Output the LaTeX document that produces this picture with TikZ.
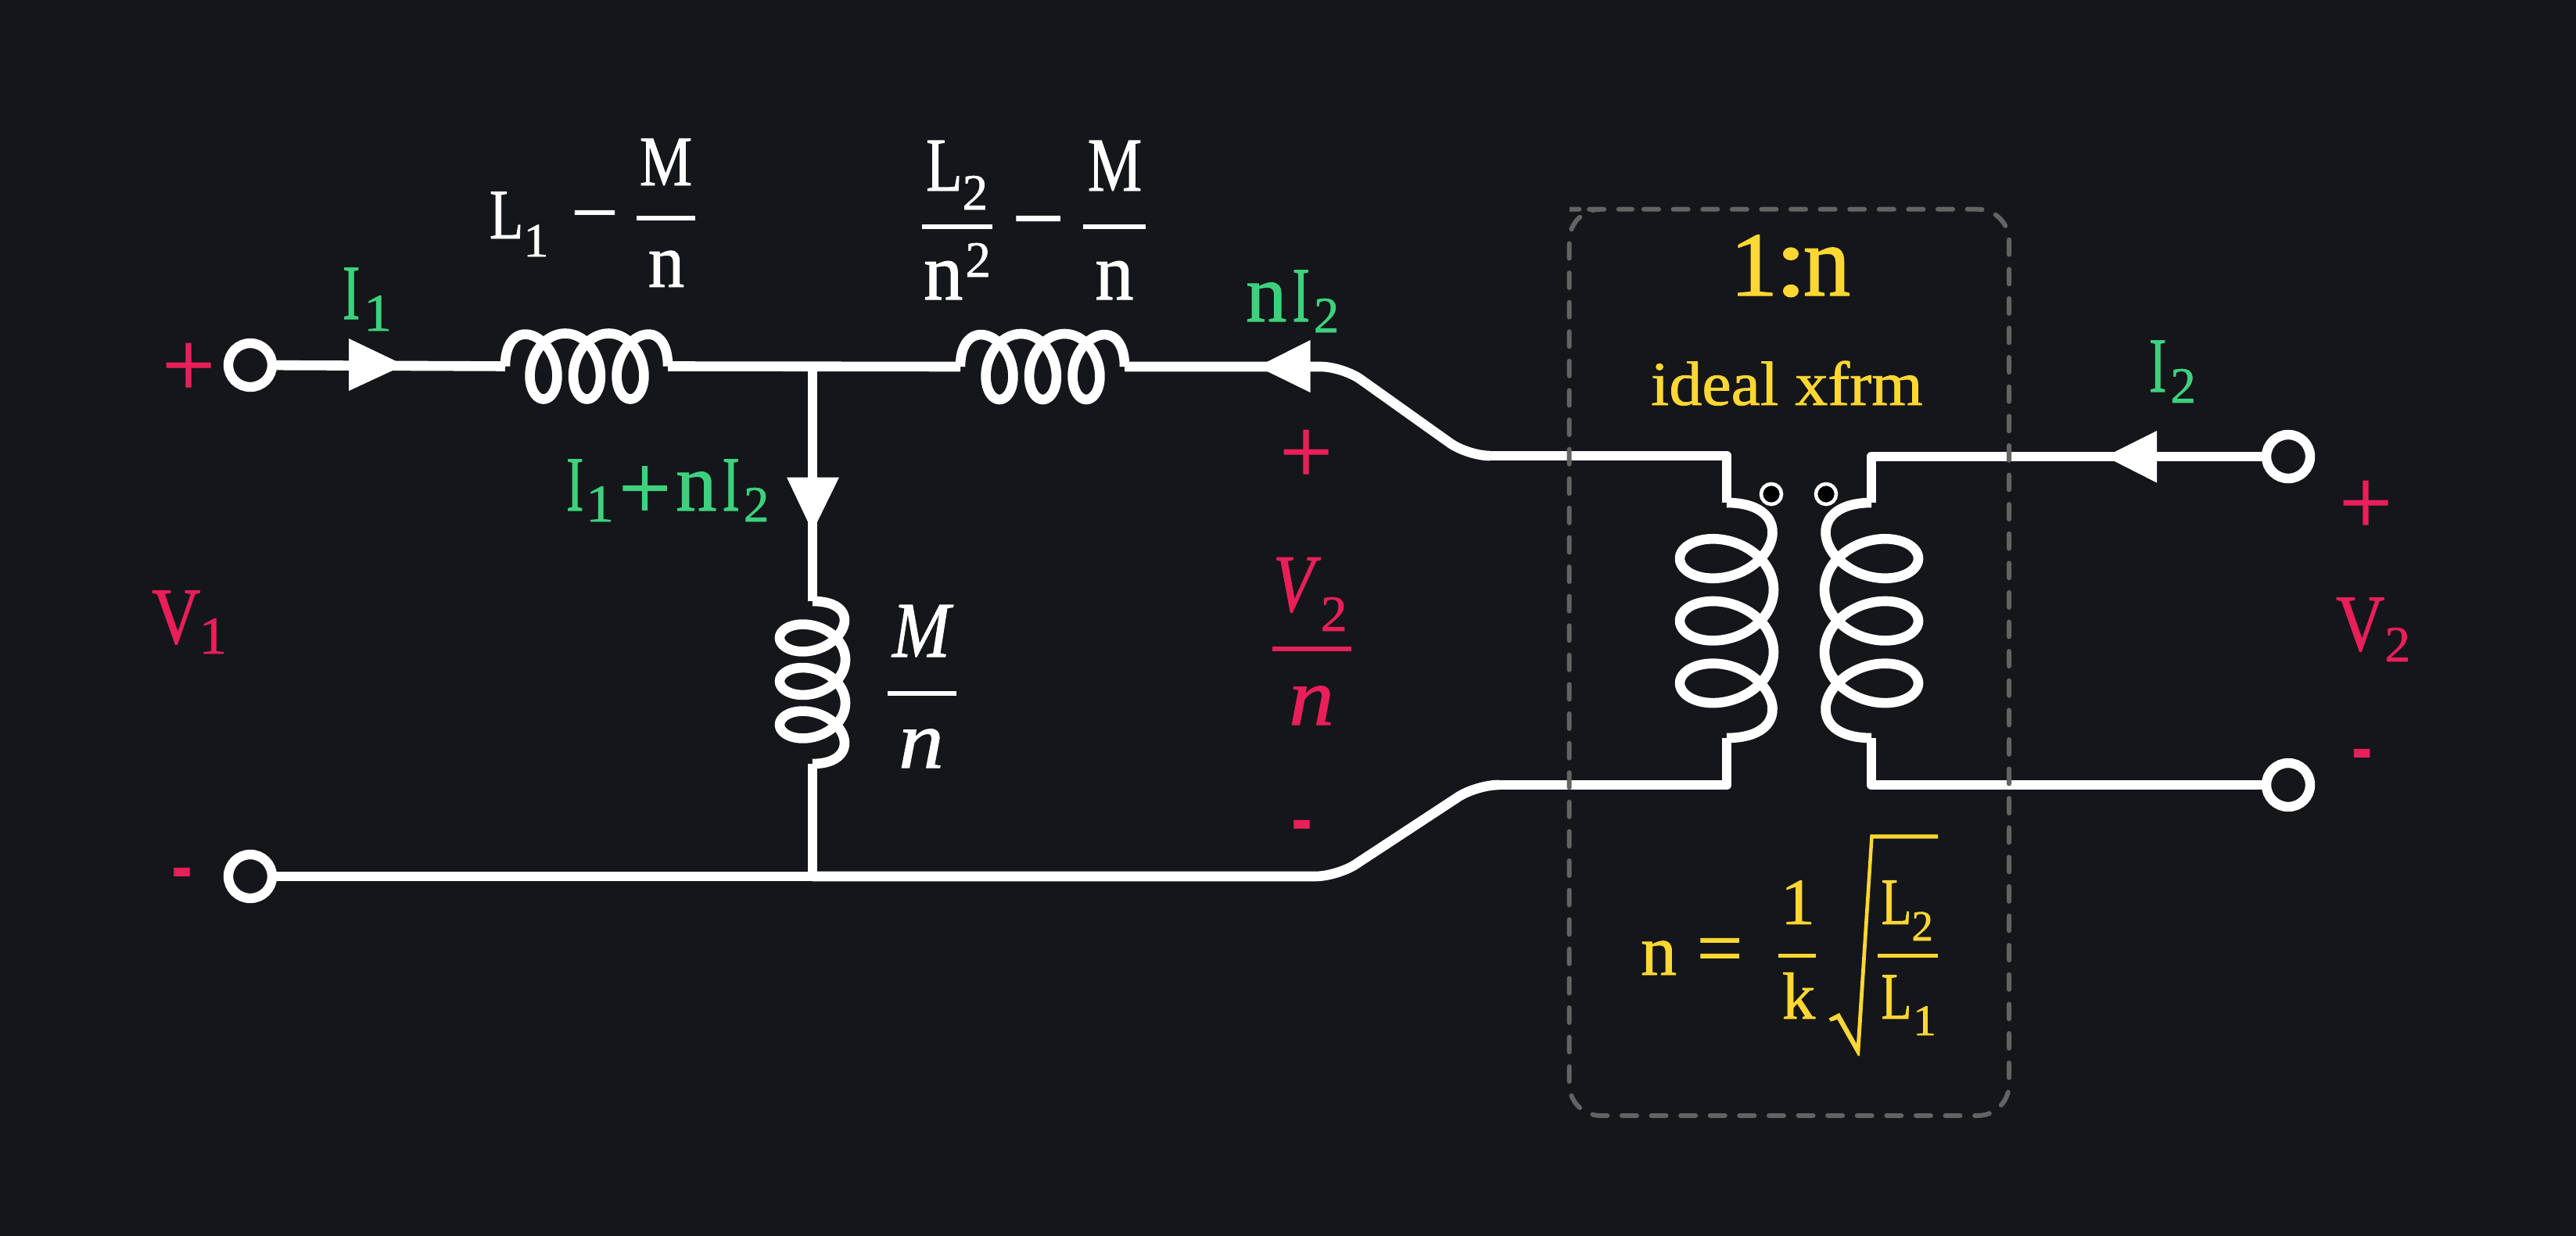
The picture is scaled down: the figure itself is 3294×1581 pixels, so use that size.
\documentclass[tikz,border=0pt]{standalone}
\usepackage{fontspec}
\setmainfont{Liberation Serif}[FakeBold=1]
\definecolor{bgc}{HTML}{14161A}
\definecolor{gn}{HTML}{3DD17E}
\definecolor{rd}{HTML}{E91F5A}
\definecolor{yl}{HTML}{FFD733}
\definecolor{dashc}{HTML}{636363}
% one glyph run: x-scale, size, text
\newcommand\gl[3]{\scalebox{#1}[1]{\fontsize{#2pt}{#2pt}\selectfont #3}}
\newcommand\dn[2]{\raisebox{-#1pt}{#2}}
\newcommand\lab[5]{\node[lbl,text=#2] (#1) at (#3,#4) {#5};}
\newcommand\ctr[5]{\node[lblc,text=#2] (#1) at (#3,#4) {#5};}
% coil: start, x vector, y vector, L, x1, pitch, b, c
\newcommand\coil[8]{%
 \begin{scope}[shift={(#1)},x={#2},y={#3}]
 \pgfmathsetmacro\cxa{#5+#6*(-140/360)+#7*sin(40)}
 \pgfmathsetmacro\cxb{#5+#6*(860/360)-#7*sin(40)}
 \pgfmathsetmacro\cyy{-#8*cos(40)}
 \pgfmathsetmacro\ctx{0.65*(#6/6.2832+#7*cos(40))}
 \pgfmathsetmacro\cty{0.65*#8*sin(40)}
 \draw[wire] (0,0) .. controls (0,-#8) and ({\cxa-\ctx},{\cyy-\cty}) .. (\cxa,\cyy)
   -- plot[domain=40:1040,samples=201] ({#5+#6*((\x-180)/360)+#7*sin(\x)},{-#8*cos(\x)})
   .. controls ({\cxb+\ctx},{\cyy-\cty}) and (#4,-#8) .. (#4,0);
 \end{scope}}
\tikzset{
 wire/.style={draw=white,line width=12.6pt,line join=round},
 term/.style={circle,draw=white,line width=12.4pt,minimum size=56pt,inner sep=0pt},
 dotm/.style={circle,draw=white,fill=black,line width=4.6pt,minimum size=26pt,inner sep=0pt},
 lbl/.style={anchor=base west,inner sep=0pt,outer sep=0pt},
 lblc/.style={anchor=base,inner sep=0pt,outer sep=0pt},
 bar/.style={line width=6pt},
 box/.style={draw=dashc,line width=6pt,line cap=round,rounded corners=40pt,dash pattern=on 19pt off 18.6pt,dash phase=22.6pt},
}
\begin{document}
\begin{tikzpicture}[x=1pt,y=-1pt]
\useasboundingbox (0,0) rectangle (3294,1581);
\fill[bgc] (0,0) rectangle (3294,1581);
% terminals
\node[term] (T1) at (320,467) {};
\node[term] (T2) at (320,1121) {};
\node[term] (T3) at (2926,584) {};
\node[term] (T4) at (2926,1004) {};
% coil ends
\coordinate (c1s) at (646,468.5);
\coordinate (c1e) at (854,468.5);
\coordinate (c2s) at (1228,469);
\coordinate (c2e) at (1438,469);
\coordinate (c3s) at (1039,769);
\coordinate (c3e) at (1039,977);
\coordinate (c4s) at (2208,643);
\coordinate (c4e) at (2208,944);
\coordinate (c5s) at (2393,643);
\coordinate (c5e) at (2393,944);
\coordinate (j1) at (1039,469);
\coordinate (j2) at (1039,1121);
\coordinate (k1) at (1717,469);
\coordinate (k2) at (1877,583);
\coordinate (k3) at (1905,583);
\coordinate (k4) at (2208,583);
\coordinate (k5) at (2393,584);
\coordinate (m1) at (1710,1121);
\coordinate (m2) at (1888,1004);
\coordinate (m3) at (1915,1004);
\coordinate (m4) at (2208,1004);
\coordinate (m5) at (2393,1004);
% coils
\coil{c1s}{(1pt,0pt)}{(0pt,-1pt)}{208}{49}{55.5}{30}{42}
\coil{c2s}{(1pt,0pt)}{(0pt,-1pt)}{210}{50}{55.5}{30}{42}
\coil{c3s}{(0pt,-1pt)}{(-1pt,0pt)}{208}{47}{55.5}{30}{42}
\coil{c4s}{(0pt,-1pt)}{(-1pt,0pt)}{301}{71.5}{79.7}{43.3}{60}
\coil{c5s}{(0pt,-1pt)}{(1pt,0pt)}{301}{71.5}{79.7}{43.3}{60}
% wires
\draw[wire] (T1) -- (c1s);
\draw[wire] (c1e) -- (c2s);
\draw[wire] (j1) -- (c3s);
\draw[wire] (c3e) -- (j2);
\draw[wire] (T2) -- (j2);
\draw[wire,rounded corners=28pt] (c2e) -- (k1) -- (k2) -- (k3);
\draw[wire] (k3) -- (k4) -- (c4s);
\draw[wire,rounded corners=28pt] (j2) -- (m1) -- (m2) -- (m3);
\draw[wire] (m3) -- (m4) -- (c4e);
\draw[wire] (c5s) -- (k5) -- (T3);
\draw[wire] (c5e) -- (m5) -- (T4);
% arrowheads
\fill[white] (446,433) -- (517,467) -- (446,500) -- cycle;
\fill[white] (1675.5,435) -- (1608,469) -- (1675.5,502) -- cycle;
\fill[white] (1006,610.5) -- (1073,610.5) -- (1039,680) -- cycle;
\fill[white] (2758,551) -- (2692,584) -- (2758,617.5) -- cycle;
% polarity dots
\node[dotm] (d1) at (2265,632) {};
\node[dotm] (d2) at (2335,632) {};
% dashed box
\draw[box] (2047,267.7) -- (2569,267.7) -- (2569,1427) -- (2006.7,1427) -- (2006.7,267.7) -- cycle;
% terminal signs
\ctr{p1}{rd}{241}{507}{\gl{1}{120}{+}}
\lab{v1}{rd}{194}{823}{\gl{.84}{103}{V}\kern-2pt\dn{13}{\gl{1.05}{68}{1}}}
\ctr{h1}{rd}{232.5}{1146}{\gl{.58}{130}{-}}
\ctr{p2}{rd}{1670}{618}{\gl{1}{120}{+}}
\ctr{h2}{rd}{1664.5}{1085}{\gl{.58}{130}{-}}
\ctr{p3}{rd}{3025}{683}{\gl{1}{120}{+}}
\lab{v3}{rd}{2987}{832}{\gl{.84}{103}{V}\dn{14}{\gl{1}{65}{2}}}
\ctr{h3}{rd}{3020}{994}{\gl{.58}{130}{-}}
% V2/n
\lab{v2}{rd}{1628}{782}{\gl{.82}{105}{\itshape V}\kern8pt\dn{25}{\gl{1.05}{65}{2}}}
\draw[bar,draw=rd] (1627,829.5) -- (1728,829.5);
\ctr{vn}{rd}{1677}{927}{\gl{1.1}{105}{\itshape n}}
% current labels
\lab{i1}{gn}{438}{408}{\gl{.67}{100}{I}\kern5pt\dn{15}{\gl{1.05}{68}{1}}}
\lab{i2}{gn}{724}{653}{\gl{.67}{100}{I}\kern3pt\dn{14}{\gl{1.05}{68}{1}}\kern6pt\dn{11}{\gl{1}{119}{+}}\kern6pt\gl{1}{105}{n}\kern7pt\gl{.67}{100}{I}\kern5pt\dn{14}{\gl{1}{65}{2}}}
\lab{i3}{gn}{1593}{411}{\gl{1}{105}{n}\kern7pt\gl{.67}{100}{I}\kern5pt\dn{14}{\gl{1}{65}{2}}}
\lab{i4}{gn}{2748}{501}{\gl{.67}{100}{I}\kern5pt\dn{14}{\gl{1}{65}{2}}}
% L1 - M/n
\lab{l1}{white}{626}{305}{\gl{.78}{91}{L}\dn{23}{\gl{1.05}{61}{1}}}
\lab{mn}{white}{730}{305}{\gl{1.08}{100}{−}}
\draw[bar,draw=white] (814,279) -- (889,279);
\ctr{m1a}{white}{851.5}{237}{\gl{.83}{91}{M}}
\ctr{n1a}{white}{852}{367}{\gl{.95}{98}{n}}
% L2/n^2 - M/n
\lab{l2}{white}{1184}{244}{\gl{.78}{98}{L}\dn{24}{\gl{1}{65}{2}}}
\draw[bar,draw=white] (1179,290) -- (1269,290);
\lab{n2}{white}{1181}{383}{\gl{.97}{104}{n}\kern3pt\dn{-29}{\gl{1}{65}{2}}}
\lab{mn2}{white}{1294}{319}{\gl{1}{119}{−}}
\draw[bar,draw=white] (1385,290) -- (1465,290);
\ctr{m2a}{white}{1425.5}{244}{\gl{.8}{98}{M}}
\ctr{n2a}{white}{1425}{383}{\gl{.95}{104}{n}}
% M/n
\ctr{m3a}{white}{1178}{840}{\gl{.88}{101}{\itshape M}}
\draw[bar,draw=white] (1135,886.5) -- (1223,886.5);
\ctr{n3a}{white}{1178}{982}{\gl{1.1}{105}{\itshape n}}
% transformer texts
\lab{ratio}{yl}{2212}{378}{\gl{1.05}{117}{1}\kern-5pt\gl{1.2}{130}{:}\kern-6pt\gl{.93}{130}{n}}
\lab{xf}{yl}{2111}{518}{\gl{1.05}{80}{ideal xfrm}}
% n = 1/k sqrt(L2/L1)
\lab{ne}{yl}{2098}{1247}{\gl{1}{92}{n}}
\ctr{eq}{yl}{2199}{1246}{\gl{1.04}{100}{=}}
\ctr{one}{yl}{2299}{1182}{\gl{1.05}{84}{1}}
\draw[bar,draw=yl,line width=5pt] (2274,1222.5) -- (2322,1222.5);
\ctr{kk}{yl}{2300}{1303}{\gl{1}{85}{k}}
\fill[yl] (2338.4,1302.7) -- (2352,1295.7) -- (2374,1335) -- (2391.4,1067.3) -- (2478,1067.3) -- (2478,1072.7) -- (2395.5,1072.7) -- (2378,1350.7) -- (2376,1350.7) -- (2349.4,1304) -- (2341,1306.7) -- cycle;
\lab{l3}{yl}{2405.5}{1182}{\gl{.75}{85}{L}\dn{21}{\gl{1}{55}{2}}}
\draw[bar,draw=yl,line width=5pt] (2401,1222.5) -- (2478,1222.5);
\lab{l4}{yl}{2405.5}{1303}{\gl{.75}{85}{L}\kern2pt\dn{21}{\gl{1.05}{56}{1}}}
\end{tikzpicture}
\end{document}
